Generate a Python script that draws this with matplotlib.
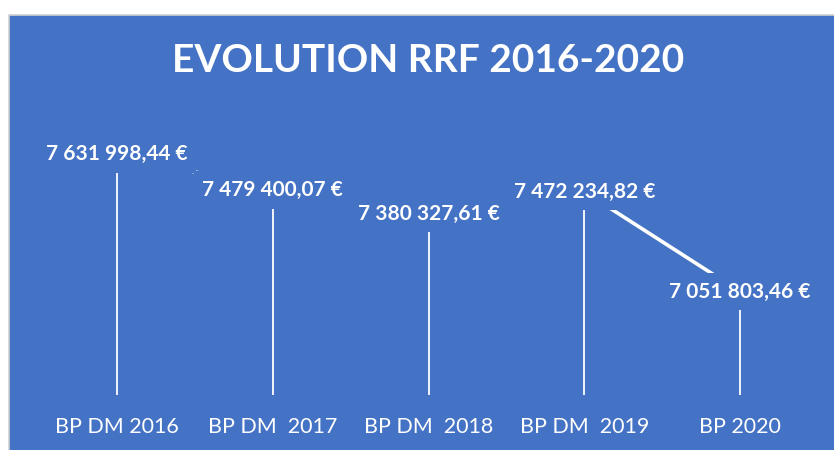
import matplotlib
matplotlib.use("Agg")
import matplotlib.pyplot as plt
from matplotlib.patches import Rectangle

categories = ["BP DM 2016", "BP DM  2017", "BP DM  2018", "BP DM  2019", "BP 2020"]
values = [7631998.44, 7479400.07, 7380327.61, 7472234.82, 7051803.46]
title = "EVOLUTION RRF 2016-2020"

def fmt(v):
    s = f"{v:,.2f}"
    s = s.replace(",", " ").replace(".", ",")
    return s + " €"

BLUE = "#4472C4"
W, H = 834, 450
fig = plt.figure(figsize=(W / 100, H / 100), dpi=100)
fig.patch.set_facecolor("white")
fig.patches.append(Rectangle((8.5 / W, -0.01), 1.0, (450 - 14.5) / H + 0.01,
                             transform=fig.transFigure, facecolor=BLUE,
                             edgecolor="#d0d0d0", linewidth=1.2, zorder=-5))

ax = fig.add_axes([39 / W, (H - 395) / H, (818 - 39) / W, (395 - 130) / H])
ax.set_zorder(2)
ax.set_facecolor("none")
for s in ax.spines.values():
    s.set_visible(False)

x = list(range(len(categories)))
ymin, ymax = 6616690, 7732000
ax.set_xlim(-0.5, len(categories) - 0.5)
ax.set_ylim(ymin, ymax)

ax.plot(x, values, color="white", linewidth=2.6, zorder=2, solid_capstyle="butt")
ax.vlines(x, ymin, values, color="white", linewidth=1.3, zorder=2)

for xi, v in zip(x, values):
    ax.annotate(fmt(v), (xi, v), xytext=(0, 0), textcoords="offset pixels",
                ha="center", va="center", color="white", fontsize=15,
                fontweight="bold", family="Lato", zorder=5,
                bbox=dict(boxstyle="square,pad=0.42", facecolor=BLUE, edgecolor="none"))

ax.set_xticks(x)
ax.set_xticklabels(categories, color="white", fontsize=15.5, family="Lato")
ax.tick_params(axis="x", length=0, pad=16)
ax.set_yticks([])

fig.text(428 / W, 1 - 61 / H, title, ha="center", va="center", color="white",
         fontsize=28, fontweight="bold", family="Lato", zorder=3)

fig.savefig("out.png", dpi=100, facecolor="white")
